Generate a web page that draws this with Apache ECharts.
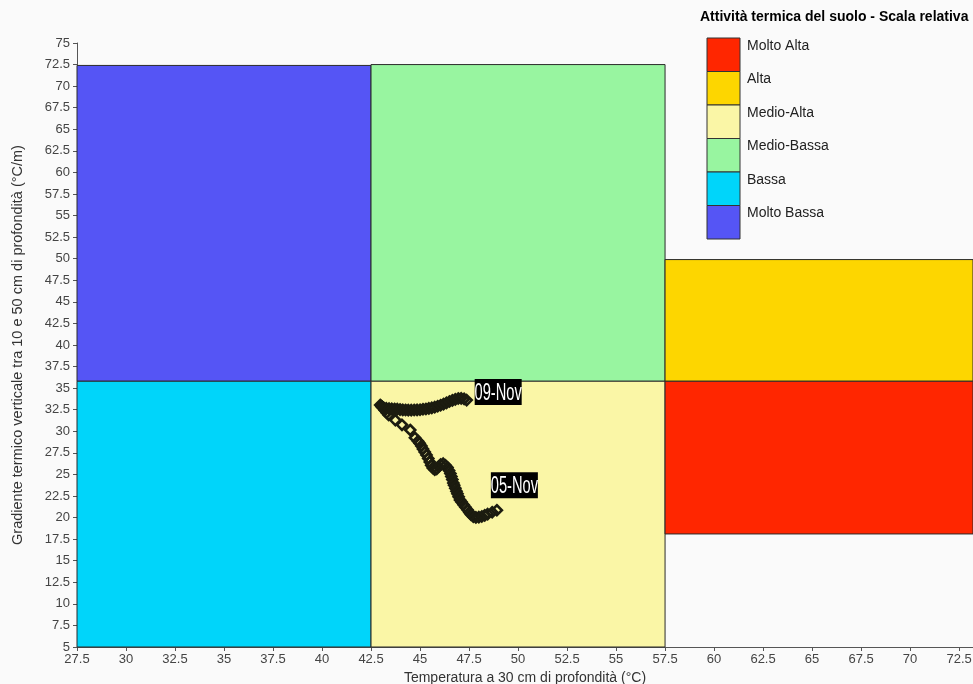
<!DOCTYPE html>
<html>
<head>
<meta charset="utf-8">
<script src="https://cdn.jsdelivr.net/npm/echarts@6/dist/echarts.min.js"></script>
<style>
html,body{margin:0;padding:0;background:#fafafa;}
#main{width:973px;height:684px;}
</style>
</head>
<body>
<div id="main"></div>
<script>
// ---- Data ----
const zoneNames = ['Molto Bassa','Medio-Bassa','Bassa','Medio-Alta','Alta','Molto Alta'];
const zoneX0 = [27.5, 42.5, 27.5, 42.5, 57.5, 57.5];
const zoneX1 = [42.5, 57.5, 42.5, 57.5, 73.21, 73.21];
const zoneY0 = [35.8, 35.8, 5, 5, 35.8, 18.1];
const zoneY1 = [72.4, 72.5, 35.8, 35.8, 49.9, 35.8];

const legendNames = ['Molto Alta','Alta','Medio-Alta','Medio-Bassa','Bassa','Molto Bassa'];

const trailX = [48.92,48.68,48.45,48.30,48.15,48.00,47.85,47.72,47.60,47.52,47.42,47.32,47.22,47.12,47.04,
  46.97,46.91,46.86,46.80,46.74,46.70,46.65,46.60,46.55,46.48,46.40,46.30,46.18,46.05,45.95,45.85,45.75,45.65,
  45.57,45.50,45.42,45.33,45.24,45.15,45.07,44.98,44.90,
  44.74,44.50,44.08,43.74,43.40,
  43.30,43.20,43.12,43.04,42.97,43.05,43.15,43.28,43.42,43.56,43.70,43.84,43.98,44.12,44.26,44.40,44.55,44.70,
  44.85,45.00,45.15,45.30,45.45,45.60,45.75,45.90,46.05,46.20,46.35,46.50,46.65,46.80,46.95,47.10,47.25,47.38];
const trailY = [20.85,20.62,20.40,20.25,20.12,20.05,20.02,20.10,20.35,20.60,20.90,21.20,21.50,21.80,22.05,
  22.40,22.75,23.05,23.40,23.75,24.00,24.40,24.75,25.10,25.45,25.80,26.05,26.25,26.15,25.90,25.65,25.55,25.75,
  26.05,26.45,26.85,27.25,27.60,27.95,28.30,28.60,28.85,
  29.25,30.15,30.75,31.30,31.90,
  32.15,32.45,32.70,32.90,33.05,32.85,32.72,32.66,32.62,32.60,32.58,32.56,32.52,32.48,32.47,32.46,32.46,32.47,
  32.48,32.50,32.55,32.58,32.65,32.72,32.80,32.90,33.02,33.15,33.30,33.45,33.58,33.70,33.80,33.82,33.75,33.62];
const startLabel = '05-Nov';
const endLabel = '09-Nov';

const xMin = 27.5, xMax = 73.21, xStep = 2.5;
const yMin = 5, yMax = 75, yStep = 2.5;

// ---- Styles ----
const zoneColors = {
  'Molto Alta':'#ff2600','Alta':'#fdd600','Medio-Alta':'#faf6a6',
  'Medio-Bassa':'#98f5a0','Bassa':'#00d5fa','Molto Bassa':'#5555f5'
};
const trailColor = '#1c1c10';
const font = 'Liberation Sans, Arial, sans-serif';

const zoneData = zoneNames.map((n,i)=>[zoneX0[i], zoneX1[i], zoneY0[i], zoneY1[i], n]);
const trailData = trailX.map((x,i)=>[x, trailY[i]]);
const last = trailX.length - 1;
const dateLabelData = [
  [trailX[0], trailY[0], startLabel],
  [trailX[last], trailY[last], endLabel]
];
// box placement relative to the point (pixels): [dx, dy]
const labelBoxOffsets = [[-6, -38], [8, -21]];
const labelBoxW = 47, labelBoxH = 26;

// legend graphic
const legendTop = 38, legendLeft = 707, boxW = 33, boxH = 33.5;
const legendGraphics = [{
  type:'text', left:700, top:10,
  style:{text:'Attività termica del suolo - Scala relativa', font:'bold 14px '+font, fill:'#000'}
}];
legendNames.forEach((n,i)=>{
  legendGraphics.push({type:'rect', shape:{x:legendLeft, y:legendTop+i*boxH, width:boxW, height:boxH},
    style:{fill:zoneColors[n], stroke:'#333', lineWidth:1}});
  legendGraphics.push({type:'text', x:747, y:legendTop+i*boxH+8,
    style:{text:n, font:'14px '+font, fill:'#222', verticalAlign:'middle'}});
});

const chart = echarts.init(document.getElementById('main'), null, {renderer:'canvas'});
chart.setOption({
  backgroundColor:'#fafafa',
  animation:false,
  grid:{left:77, right:0, top:43, bottom:37, outerBoundsMode:'none', containLabel:false},
  xAxis:{
    type:'value', min:xMin, max:xMax, interval:xStep,
    name:'Temperatura a 30 cm di profondità (°C)', nameLocation:'middle', nameGap:17,
    nameTextStyle:{fontSize:14, fontFamily:font, color:'#333'},
    axisLine:{lineStyle:{color:'#555'}},
    axisTick:{length:4, lineStyle:{color:'#555'}},
    axisLabel:{fontSize:13, fontFamily:font, color:'#444', margin:6, showMaxLabel:false},
    splitLine:{show:false}
  },
  yAxis:{
    type:'value', min:yMin, max:yMax, interval:yStep,
    name:'Gradiente termico verticale tra 10 e 50 cm di profondità (°C/m)', nameLocation:'middle', nameGap:52,
    nameTextStyle:{fontSize:14.5, fontFamily:font, color:'#333'},
    axisLine:{show:true, lineStyle:{color:'#555'}},
    axisTick:{show:true, length:4, lineStyle:{color:'#555'}},
    axisLabel:{fontSize:13, fontFamily:font, color:'#444', margin:7},
    splitLine:{show:false}
  },
  graphic: legendGraphics,
  series:[
    {
      type:'custom', z:1,
      data: zoneData,
      encode:{x:[0,1], y:[2,3]},
      renderItem:function(params, api){
        const tl = api.coord([api.value(0), api.value(3)]);
        const br = api.coord([api.value(1), api.value(2)]);
        const name = zoneData[params.dataIndex][4];
        return {type:'rect', shape:{x:tl[0], y:tl[1], width:br[0]-tl[0], height:br[1]-tl[1]},
          style:{fill:zoneColors[name], stroke:'#2a2a2a', lineWidth:1}};
      },
      silent:true
    },
    {
      type:'scatter', z:5,
      data: trailData,
      symbol:'diamond', symbolSize:10,
      itemStyle:{color:'rgba(0,0,0,0)', borderColor:trailColor, borderWidth:2.6, opacity:1}
    },
    {
      type:'custom', z:10,
      data: dateLabelData,
      encode:{x:0, y:1},
      renderItem:function(params, api){
        const p = api.coord([api.value(0), api.value(1)]);
        const off = labelBoxOffsets[params.dataIndex];
        const bx = p[0] + off[0], by = p[1] + off[1];
        return {type:'group', children:[
          {type:'rect', shape:{x:bx, y:by, width:labelBoxW, height:labelBoxH}, style:{fill:'#000'}},
          {type:'text', x:bx + labelBoxW/2, y:by + labelBoxH/2 + 1, scaleX:0.61,
            style:{text:dateLabelData[params.dataIndex][2], fontSize:24, fontFamily:font,
              fill:'#fff', align:'center', verticalAlign:'middle'}}
        ]};
      },
      silent:true
    }
  ]
});
</script>
</body>
</html>
